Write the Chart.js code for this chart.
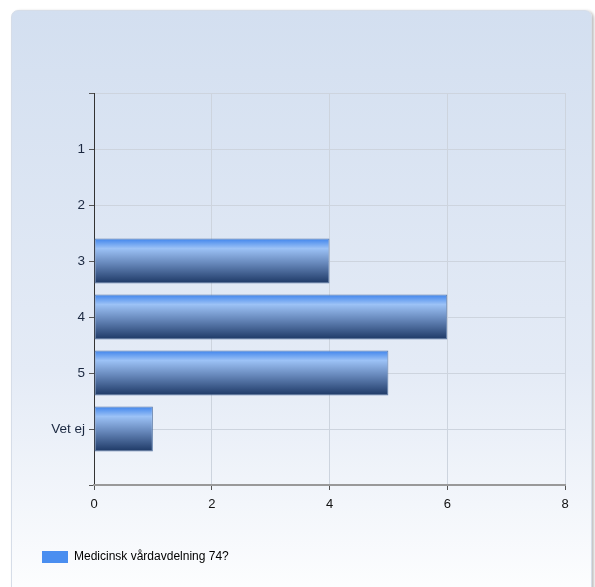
<!DOCTYPE html>
<html>
<head>
<meta charset="utf-8">
<script src="https://cdn.jsdelivr.net/npm/chart.js@4"></script>
<style>
    html, body { margin: 0; padding: 0; background: #fff; }
    #wrap { position: relative; width: 595px; height: 587px; overflow: hidden; }
    #panel {
        position: absolute; left: 11px; top: 10px; width: 579px; height: 600px;
        border-radius: 7px;
        background: linear-gradient(to bottom, #d3dff0 0%, #e4ebf6 60%, #ffffff 100%);
        border: 1px solid #d6dde8;
        box-shadow: 2px 1px 3px rgba(0,0,0,0.25);
    }
    #chart { position: absolute; left: 0; top: 0; }
</style>
</head>
<body>
<div id="wrap">
    <div id="panel"></div>
    <canvas id="chart" width="595" height="587"></canvas>
</div>
<script>
// Values
const categories = ['', '1', '2', '3', '4', '5', 'Vet ej', ''];
const counts = [null, 0, 0, 4, 6, 5, 1, null];
const seriesName = 'Medicinsk vårdavdelning 74?';
const xTicks = [0, 2, 4, 6, 8];

document.addEventListener('DOMContentLoaded', function() {
    const ctx = document.getElementById('chart').getContext('2d');

    function barGradient(context) {
        const chart = context.chart;
        const y = chart.scales.y;
        if (!y || context.dataIndex === undefined) return '#4a8ae8';
        const mid = y.getPixelForValue(context.dataIndex);
        const half = 22.4;
        const g = chart.ctx.createLinearGradient(0, mid - half, 0, mid + half);
        g.addColorStop(0, '#3f84ec');
        g.addColorStop(0.22, '#9cc2f6');
        g.addColorStop(0.55, '#6788bb');
        g.addColorStop(1, '#1d3865');
        return g;
    }

    new Chart(ctx, {
        type: 'bar',
        data: {
            labels: categories,
            datasets: [{
                label: seriesName,
                data: counts,
                backgroundColor: barGradient,
                borderColor: '#5b7aa6',
                borderWidth: 1,
                borderSkipped: false,
                barPercentage: 0.8,
                categoryPercentage: 1
            }]
        },
        options: {
            indexAxis: 'y',
            responsive: false,
            animation: false,
            layout: { padding: { top: 93, left: 32, right: 30, bottom: 14 } },
            scales: {
                y: {
                    offset: false,
                    grid: { offset: false, color: '#cdd4de', tickColor: '#555', tickLength: 5 },
                    border: { color: '#333', width: 1 },
                    ticks: { color: '#1b2840', padding: 4, font: { family: 'Liberation Sans, Arial', size: 13.5 } },
                    afterFit: function(scale) { scale.width = 62; }
                },
                x: {
                    min: 0,
                    max: 8,
                    afterBuildTicks: function(scale) { scale.ticks = xTicks.map(v => ({ value: v })); },
                    grid: { color: '#cdd4de', tickColor: '#555', tickLength: 5 },
                    border: { color: '#999', width: 2 },
                    ticks: { color: '#111', padding: 7, font: { family: 'Liberation Sans, Arial', size: 13 } },
                    afterFit: function(scale) { scale.height = 56; }
                }
            },
            plugins: {
                legend: {
                    position: 'bottom',
                    align: 'start',
                    labels: {
                        boxWidth: 26,
                        boxHeight: 12,
                        padding: 10,
                        color: '#111',
                        font: { family: 'Liberation Sans, Arial', size: 12 },
                        generateLabels: function(chart) {
                            return [{
                                text: seriesName,
                                fillStyle: '#4a8ef0',
                                strokeStyle: '#4a8ef0',
                                lineWidth: 0,
                                datasetIndex: 0
                            }];
                        }
                    }
                },
                tooltip: { enabled: false }
            }
        }
    });
});
</script>
</body>
</html>
